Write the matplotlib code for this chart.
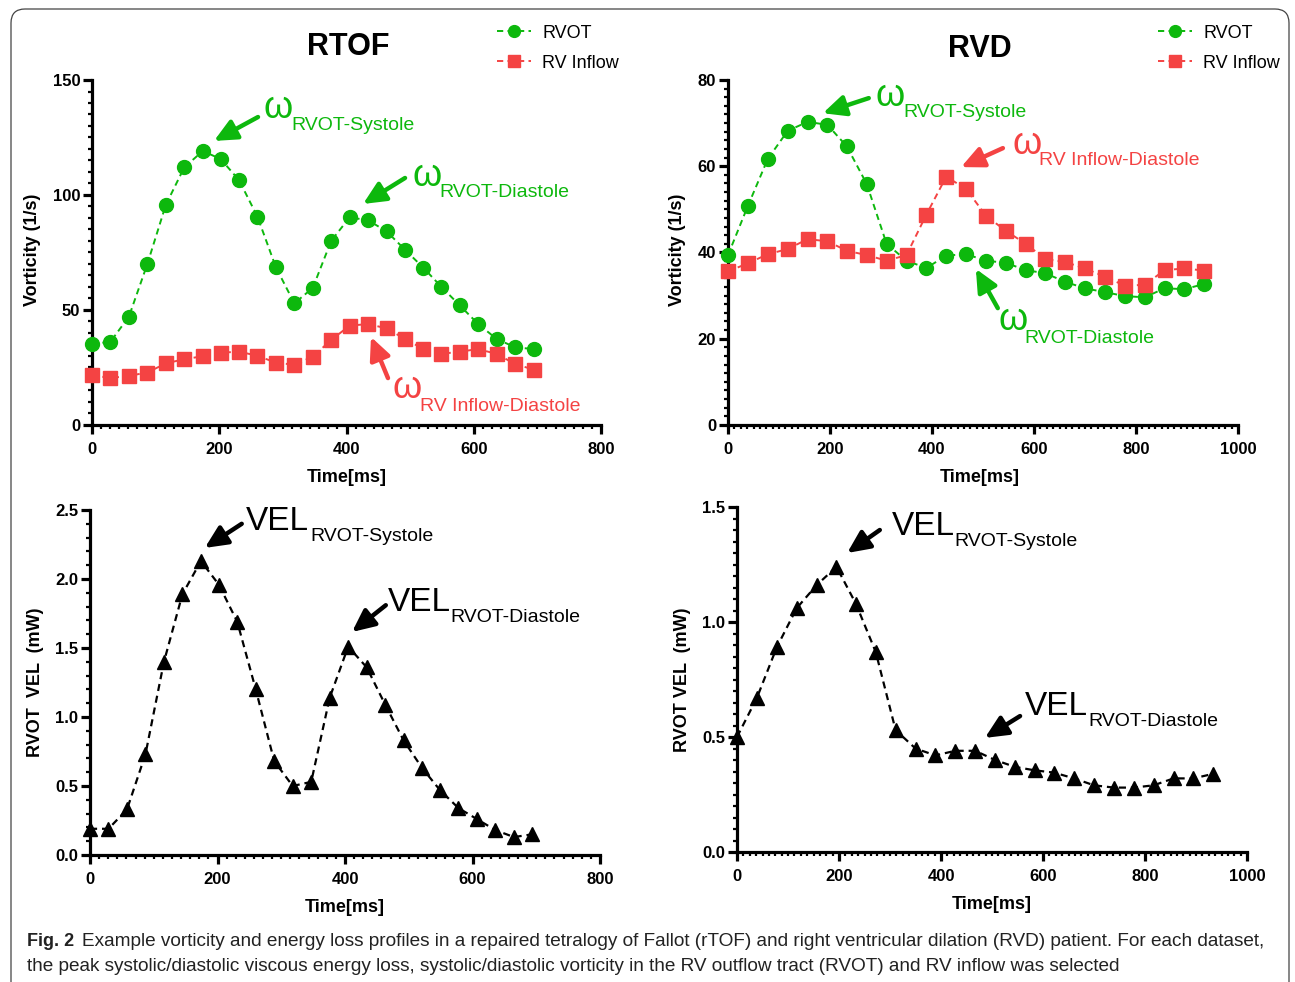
import matplotlib
matplotlib.use("Agg")
import matplotlib.pyplot as plt
from matplotlib.ticker import MultipleLocator, FormatStrFormatter
from matplotlib.patches import FancyBboxPatch
from matplotlib.transforms import IdentityTransform
from matplotlib import font_manager

# ---------------- data ----------------
t_rtof = [0, 29, 58, 87, 116, 145, 174, 202, 231, 260, 289, 318, 347, 376, 405,
          434, 463, 492, 521, 549, 578, 607, 636, 665, 694]
rtof_rvot = [35.2, 36.2, 47.1, 70.0, 95.7, 112.0, 119.1, 115.7, 106.5, 90.6, 68.6,
             52.9, 59.6, 80.1, 90.3, 89.0, 84.2, 76.2, 68.3, 60.1, 52.0, 43.9,
             37.4, 33.8, 33.0]
rtof_inflow = [21.7, 20.4, 21.4, 22.8, 26.8, 28.6, 29.9, 31.4, 31.9, 30.1, 27.1,
               26.2, 29.7, 37.0, 43.2, 43.9, 42.0, 37.4, 33.0, 30.9, 31.9, 33.0,
               30.9, 26.5, 24.1]
rtof_vel = [0.19, 0.19, 0.33, 0.73, 1.40, 1.89, 2.13, 1.96, 1.69, 1.20, 0.68, 0.50,
            0.53, 1.14, 1.51, 1.36, 1.09, 0.83, 0.63, 0.47, 0.34, 0.26, 0.18, 0.13,
            0.15]

t_rvd = [0, 39, 78, 117, 156, 195, 233, 272, 311, 350, 389, 428, 467, 506, 545,
         584, 622, 661, 700, 739, 778, 817, 856, 895, 934]
rvd_rvot = [39.4, 50.8, 61.7, 68.2, 70.3, 69.6, 64.6, 55.9, 42.0, 38.1, 36.4, 39.3,
            39.6, 38.1, 37.6, 35.9, 35.2, 33.2, 31.7, 30.8, 29.9, 29.6, 31.7, 31.5,
            32.7]
rvd_inflow = [35.6, 37.5, 39.6, 40.8, 43.1, 42.6, 40.4, 39.4, 38.1, 39.4, 48.8,
              57.6, 54.7, 48.5, 45.0, 42.0, 38.5, 37.8, 36.3, 34.4, 32.3, 32.5,
              35.9, 36.3, 35.8]
rvd_vel = [0.50, 0.67, 0.89, 1.06, 1.16, 1.24, 1.08, 0.87, 0.53, 0.45, 0.42, 0.44,
           0.44, 0.40, 0.37, 0.355, 0.345, 0.32, 0.29, 0.28, 0.28, 0.29, 0.32, 0.32,
           0.34]

series_labels = ["RVOT", "RV Inflow"]
titles = ["RTOF", "RVD"]
caption_bold = "Fig. 2"
caption_l1 = ("Example vorticity and energy loss profiles in a repaired tetralogy of Fallot "
              "(rTOF) and right ventricular dilation (RVD) patient. For each dataset,")
caption_l2 = ("the peak systolic/diastolic viscous energy loss, systolic/diastolic vorticity "
              "in the RV outflow tract (RVOT) and RV inflow was selected")

# ---------------- style ----------------
GREEN = "#0DB80D"
RED = "#F44343"
FONT = "Liberation Sans"
names = {f.name for f in font_manager.fontManager.ttflist}
CAPFONT = "Liberation Sans Narrow" if "Liberation Sans Narrow" in names else "Liberation Sans"
plt.rcParams["font.family"] = [FONT, "DejaVu Sans"]

W, H = 1295, 982
fig = plt.figure(figsize=(W / 100, H / 100), dpi=100)


def px_axes(l, r, b, t):
    return fig.add_axes([l / W, 1 - b / H, (r - l) / W, (b - t) / H])


def style(ax, xmax, xmaj, xmin, ymax, ymaj, ymin, fmt=None):
    ax.set_xlim(0, xmax)
    ax.set_ylim(0, ymax)
    for s in ("top", "right"):
        ax.spines[s].set_visible(False)
    for s in ("left", "bottom"):
        ax.spines[s].set_linewidth(2.3)
    ax.xaxis.set_major_locator(MultipleLocator(xmaj))
    ax.xaxis.set_minor_locator(MultipleLocator(xmin))
    ax.yaxis.set_major_locator(MultipleLocator(ymaj))
    ax.yaxis.set_minor_locator(MultipleLocator(ymin))
    if fmt:
        ax.yaxis.set_major_formatter(FormatStrFormatter(fmt))
    ax.tick_params(which="major", direction="out", length=6.5, width=2.3,
                   labelsize=12)
    ax.tick_params(axis="x", which="major", pad=6)
    ax.tick_params(axis="y", which="major", pad=2)
    ax.tick_params(which="minor", direction="out", length=3, width=1.6)
    for lab in ax.get_xticklabels() + ax.get_yticklabels():
        lab.set_fontweight("bold")
    ax.patch.set_alpha(0)


def ann(ax, main, sub, main_xy, sub_xy, tail, tip, color, msize, ssize):
    ax.text(*main_xy, main, color=color, fontsize=msize, ha="left", va="baseline")
    ax.text(*sub_xy, sub, color=color, fontsize=ssize, ha="left", va="baseline")
    ax.annotate("", xy=tip, xytext=tail,
                arrowprops=dict(arrowstyle="-|>,head_length=0.9,head_width=0.42",
                                lw=3.2, color=color, mutation_scale=15,
                                shrinkA=0, shrinkB=0))


LW = 1.4
DASH = (0, (3.2, 2.2))
OM, SUB = 27, 14

# ---------------- top-left: RTOF vorticity ----------------
ax1 = px_axes(92, 601, 425, 80)
l1, = ax1.plot(t_rtof, rtof_rvot, color=GREEN, lw=LW, ls=DASH, marker="o", ms=10,
               clip_on=False, zorder=3, label=series_labels[0])
l2, = ax1.plot(t_rtof, rtof_inflow, color=RED, lw=LW, ls=DASH, marker="s", ms=10,
               clip_on=False, zorder=3, label=series_labels[1])
style(ax1, 800, 200, 200 / 14, 150, 50, 5)
ax1.set_ylabel("Vorticity (1/s)", fontsize=13, fontweight="bold")
ax1.set_xlabel("Time[ms]", fontsize=13, fontweight="bold")
ax1.yaxis.set_label_coords(-0.100, 0.507)
ax1.xaxis.set_label_coords(0.501, -0.128)
ann(ax1, "ω", "RVOT-Systole", (270, 133.5), (312.8, 128.2),
    (260.9, 133.9), (191.7, 123.5), GREEN, OM, SUB)
ann(ax1, "ω", "RVOT-Diastole", (504, 103.9), (545.4, 99.1),
    (492, 107.4), (426, 96.1), GREEN, OM, SUB)
ann(ax1, "ω", "RV Inflow-Diastole", (473, 11.7), (515.5, 6.0),
    (465.2, 20.4), (438.5, 38.3), RED, OM, SUB)

# ---------------- top-right: RVD vorticity ----------------
ax2 = px_axes(728, 1238, 425, 80)
m1, = ax2.plot(t_rvd, rvd_rvot, color=GREEN, lw=LW, ls=DASH, marker="o", ms=10,
               clip_on=False, zorder=3, label=series_labels[0])
m2, = ax2.plot(t_rvd, rvd_inflow, color=RED, lw=LW, ls=DASH, marker="s", ms=10,
               clip_on=False, zorder=3, label=series_labels[1])
style(ax2, 1000, 200, 12.5, 80, 20, 2)
ax2.set_ylabel("Vorticity (1/s)", fontsize=13, fontweight="bold")
ax2.set_xlabel("Time[ms]", fontsize=13, fontweight="bold")
ax2.yaxis.set_label_coords(-0.082, 0.507)
ax2.xaxis.set_label_coords(0.494, -0.128)
ann(ax2, "ω", "RVOT-Systole", (290, 74.0), (343, 71.5),
    (276, 75.8), (186, 72.3), GREEN, OM, SUB)
ann(ax2, "ω", "RV Inflow-Diastole", (557, 62.8), (610, 60.3),
    (539, 64.2), (457, 59.8), RED, OM, SUB)
ann(ax2, "ω", "RVOT-Diastole", (531, 22.0), (582, 19.0),
    (529, 27.1), (486, 36.2), GREEN, OM, SUB)

# ---------------- bottom-left: RTOF VEL ----------------
ax3 = px_axes(90, 600, 855, 510)
ax3.plot(t_rtof, rtof_vel, color="black", lw=1.6, ls=DASH, marker="^", ms=10,
         clip_on=False, zorder=3)
style(ax3, 800, 200, 200 / 14, 2.5, 0.5, 0.1, "%.1f")
ax3.set_ylabel("RVOT  VEL  (mW)", fontsize=13, fontweight="bold")
ax3.set_xlabel("Time[ms]", fontsize=13, fontweight="bold")
ax3.yaxis.set_label_coords(-0.090, 0.501)
ax3.xaxis.set_label_coords(0.5, -0.128)
ann(ax3, "VEL", "RVOT-Systole", (245, 2.355), (345, 2.275),
    (238, 2.40), (180, 2.225), "black", 24, SUB)
ann(ax3, "VEL", "RVOT-Diastole", (467, 1.768), (566, 1.688),
    (464, 1.81), (411, 1.616), "black", 24, SUB)

# ---------------- bottom-right: RVD VEL ----------------
ax4 = px_axes(737, 1247, 852, 507)
ax4.plot(t_rvd, rvd_vel, color="black", lw=1.6, ls=DASH, marker="^", ms=10,
         clip_on=False, zorder=3)
style(ax4, 1000, 200, 12.5, 1.5, 0.5, 0.05, "%.1f")
ax4.set_ylabel("RVOT VEL  (mW)", fontsize=13, fontweight="bold")
ax4.set_xlabel("Time[ms]", fontsize=13, fontweight="bold")
ax4.yaxis.set_label_coords(-0.090, 0.499)
ax4.xaxis.set_label_coords(0.5, -0.128)
ann(ax4, "VEL", "RVOT-Systole", (304, 1.378), (427, 1.330),
    (280, 1.40), (216, 1.30), "black", 24, SUB)
ann(ax4, "VEL", "RVOT-Diastole", (565, 0.596), (688, 0.547),
    (555, 0.591), (486, 0.496), "black", 24, SUB)

# ---------------- titles & legends ----------------
fig.text(348 / W, 1 - 47 / H, titles[0], fontsize=22, fontweight="bold",
         ha="center", va="center")
fig.text(980 / W, 1 - 49 / H, titles[1], fontsize=22, fontweight="bold",
         ha="center", va="center")
for handles, x0 in (((l1, l2), 497), ((m1, m2), 1158)):
    fig.legend(handles=handles, labels=series_labels, loc="center left",
               bbox_to_anchor=(x0 / W, 1 - 48 / H), frameon=False, fontsize=13,
               handlelength=1.9, handletextpad=0.6, labelspacing=0.72,
               borderpad=0, borderaxespad=0, markerscale=0.85)

# ---------------- frame & caption ----------------
frame = FancyBboxPatch((11, -40), 1278, H - 9 + 40, boxstyle="round,pad=0,rounding_size=14",
                       transform=IdentityTransform(), facecolor="none",
                       edgecolor="#444444", lw=0.9)
fig.patches.append(frame)

renderer = fig.canvas.get_renderer()
tb = fig.text(27 / W, 1 - 946 / H, caption_bold, fontsize=13, fontweight="bold",
              family=[CAPFONT, "DejaVu Sans"], ha="left", va="baseline",
              color="#222222")
bb = tb.get_window_extent(renderer)
x_start = bb.x1 + 8
fs = 12.5
t1 = fig.text(x_start / W, 1 - 946 / H, caption_l1, fontsize=fs,
              family=[CAPFONT, "DejaVu Sans"], ha="left", va="baseline", color="#222222")
w1 = t1.get_window_extent(renderer).width
fs_fit = fs * (1273 - x_start) / w1
t1.set_fontsize(fs_fit)
fig.text(27 / W, 1 - 971 / H, caption_l2, fontsize=fs_fit,
         family=[CAPFONT, "DejaVu Sans"], ha="left", va="baseline", color="#222222")

fig.savefig("out.png", dpi=100)
